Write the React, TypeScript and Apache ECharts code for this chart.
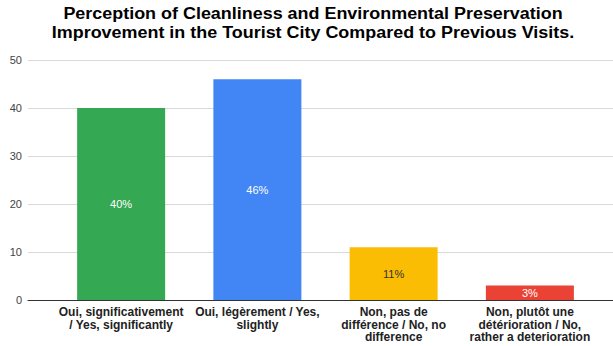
import React, { useEffect, useRef } from "react";
import * as echarts from "echarts";

const categories = [
  "Oui, significativement\n/ Yes, significantly",
  "Oui, légèrement / Yes,\nslightly",
  "Non, pas de\ndifférence / No, no\ndifference",
  "Non, plutôt une\ndétérioration / No,\nrather a deterioration",
];
const values = [40, 46, 11, 3];
const barColors = ["#34a853", "#4285f4", "#fbbc04", "#ea4335"];
const labelColors = ["#ffffff", "#ffffff", "#333333", "#ffffff"];
const titleLines = [
  "Perception of Cleanliness and Environmental Preservation",
  "Improvement in the Tourist City Compared to Previous Visits.",
];

const FONT = "Liberation Sans, Arial, sans-serif";

export default function App() {
  const ref = useRef<HTMLDivElement>(null);
  useEffect(() => {
    if (!ref.current) return;
    const chart = echarts.init(ref.current, undefined, { renderer: "svg" });
    chart.setOption({
      animation: false,
      graphic: [
        {
          type: "text",
          x: 313,
          y: 3,
          scaleX: 1.055,
          style: {
            text: titleLines.join("\n"),
            align: "center",
            verticalAlign: "top",
            fontFamily: FONT,
            fontWeight: "bold",
            fontSize: 17,
            lineHeight: 19.6,
            fill: "#000",
          },
        },
      ],
      grid: [
        { left: 28, right: 0, top: 60, bottom: 46 },
        { left: 53, right: 15, top: 60, bottom: 46 },
      ],
      xAxis: [
        {
          type: "value",
          gridIndex: 0,
          min: 0,
          max: 1,
          axisLabel: { show: false },
          axisTick: { show: false },
          splitLine: { show: false },
          axisLine: { show: true, onZero: false, lineStyle: { color: "#333", width: 1 } },
        },
        {
          type: "category",
          gridIndex: 1,
          data: categories,
          axisLine: { show: false },
          axisTick: { show: false },
          axisLabel: {
            interval: 0,
            margin: 6,
            fontFamily: FONT,
            fontWeight: "bold",
            fontSize: 12,
            lineHeight: 12.5,
            color: "#222",
          },
        },
      ],
      yAxis: [
        {
          type: "value",
          gridIndex: 0,
          min: 0,
          max: 50,
          interval: 10,
          axisLine: { show: false },
          axisTick: { show: false },
          axisLabel: {
            margin: 6,
            fontFamily: FONT,
            fontSize: 11,
            color: "#444",
          },
          splitLine: { lineStyle: { color: "#d9d9d9", width: 1 } },
        },
        {
          type: "value",
          gridIndex: 1,
          min: 0,
          max: 50,
          interval: 10,
          show: false,
          splitLine: { show: false },
        },
      ],
      series: [
        {
          type: "bar",
          xAxisIndex: 1,
          yAxisIndex: 1,
          barWidth: 88,
          data: values.map((v, i) => ({
            value: v,
            itemStyle: { color: barColors[i] },
            label: { color: labelColors[i] },
          })),
          label: {
            show: true,
            position: "inside",
            formatter: (p: any) => p.value + "%",
            fontFamily: FONT,
            fontSize: 11,
          },
        },
      ],
    });
    return () => chart.dispose();
  }, []);
  return (
    <div
      ref={ref}
      style={{ position: "absolute", left: 0, top: 0, width: 613, height: 346 }}
    />
  );
}
